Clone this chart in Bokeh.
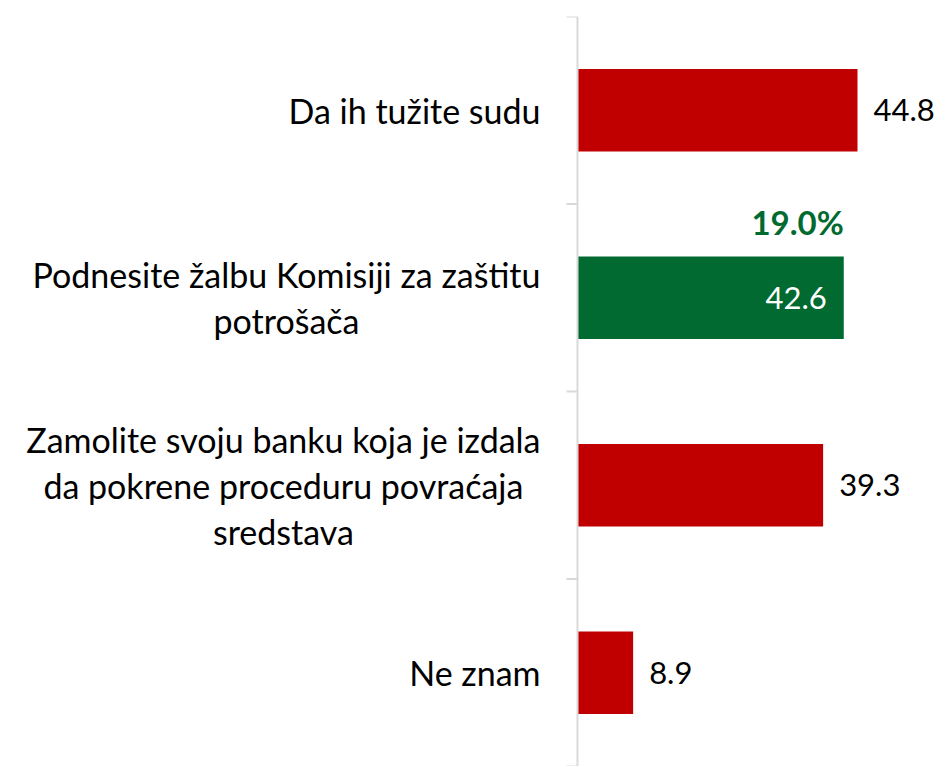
from bokeh.plotting import figure
from bokeh.models import (ColumnDataSource, LabelSet, Label, Span, Range1d, Text)
from bokeh.core.properties import value
from bokeh.embed import file_html
from bokeh.resources import INLINE

# ---- data ----
categories = [
    "Da ih tužite sudu",
    "Podnesite žalbu Komisiji za zaštitu\npotrošača",
    "Zamolite svoju banku koja je izdala\nda pokrene proceduru povraćaja\nsredstava",
    "Ne znam",
]
values = [44.8, 42.6, 39.3, 8.9]
highlight_index = 1
highlight_note = "19.0%"

# ---- style ----
RED = "#C00000"
GREEN = "#006A30"
GRID = "#D9D9D9"
FONT = "Lato"
W, H = 940, 766
AXIS_PX = 577          # screen x of the value axis (x = 0)
PX_PER_UNIT = 6.25     # horizontal scale
TICK_PX = 11

n = len(categories)
ycent = [n - i - 0.5 for i in range(n)]
colors = [GREEN if i == highlight_index else RED for i in range(n)]

p = figure(width=W, height=H, output_backend="svg", toolbar_location=None,
           x_axis_location=None, y_axis_location=None,
           x_range=Range1d(-AXIS_PX / PX_PER_UNIT, (W - AXIS_PX) / PX_PER_UNIT),
           y_range=Range1d(0, n),
           min_border_left=0, min_border_right=0, min_border_top=16,
           min_border_bottom=0)
p.outline_line_color = None
p.grid.visible = False
p.background_fill_color = None
p.border_fill_color = None

# category axis line and separator ticks between categories
p.add_layout(Span(location=0, dimension="height", line_color=GRID, line_width=2))
tick_y = list(range(n + 1))
p.segment(x0=[-TICK_PX / PX_PER_UNIT] * len(tick_y), x1=[0] * len(tick_y),
          y0=tick_y, y1=tick_y, line_color=GRID, line_width=2)

# category labels: block right-aligned, lines centred
lab_src = ColumnDataSource(dict(x=[0] * n, y=ycent, t=categories))
tkw = dict(x="x", y="y", text="t", x_offset=-37, text_baseline="middle",
           text_font=value(FONT), text_font_size="34px", text_color="black",
           text_line_height=1.12)
if "anchor" in Text.properties():
    tkw.update(anchor="center_right", text_align="center")
else:
    tkw.update(text_align="right")
p.text(source=lab_src, **tkw)

src = ColumnDataSource(dict(y=ycent, v=values, c=colors))
p.hbar(y="y", left=0, right="v", height=0.44, fill_color="c", line_color=None,
       source=src)

out_idx = [i for i in range(n) if i != highlight_index]
out_src = ColumnDataSource(dict(x=[values[i] for i in out_idx],
                                y=[ycent[i] for i in out_idx],
                                t=[f"{values[i]:.1f}" for i in out_idx]))
p.add_layout(LabelSet(x="x", y="y", text="t", source=out_src, x_offset=16,
                      text_align="left", text_baseline="middle",
                      text_font=value(FONT), text_font_size="31px", text_color="black"))

in_src = ColumnDataSource(dict(x=[values[highlight_index]], y=[ycent[highlight_index]],
                               t=[f"{values[highlight_index]:.1f}"]))
p.add_layout(LabelSet(x="x", y="y", text="t", source=in_src, x_offset=-17,
                      text_align="right", text_baseline="middle",
                      text_font=value(FONT), text_font_size="31px", text_color="white"))

p.add_layout(Label(x=values[highlight_index], y=ycent[highlight_index], y_offset=76,
                   text=highlight_note, text_align="right", text_baseline="middle",
                   text_font=FONT, text_font_size="33px", text_font_style="bold",
                   text_color=GREEN))

open("out.html", "w").write(file_html(p, INLINE))
